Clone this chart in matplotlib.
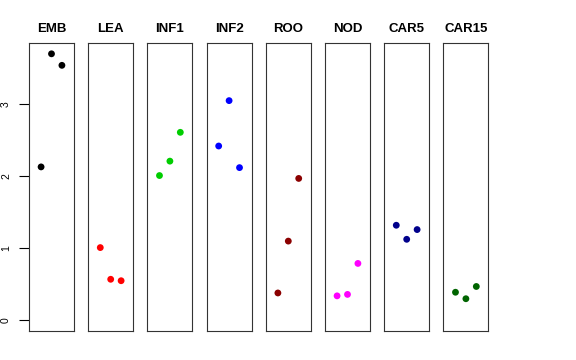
import matplotlib
matplotlib.use("Agg")
import matplotlib.pyplot as plt

tissues = ["EMB", "LEA", "INF1", "INF2", "ROO", "NOD", "CAR5", "CAR15"]
colors = ["black", "red", "#00CD00", "blue", "#8B0000", "magenta", "#00008B", "#006400"]
reps = [1, 2, 3]
values = [
    [2.13, 3.70, 3.54],
    [1.01, 0.57, 0.55],
    [2.01, 2.21, 2.61],
    [2.42, 3.05, 2.12],
    [0.38, 1.10, 1.97],
    [0.34, 0.36, 0.79],
    [1.32, 1.125, 1.26],
    [0.39, 0.30, 0.47],
]
yticks = [0, 1, 2, 3]

plt.rcParams['font.family'] = ['Liberation Sans', 'DejaVu Sans']
fig = plt.figure(figsize=(5.76, 3.6), dpi=100)

left0, width, step = 29 / 576, 45 / 576, 59.2 / 576
bottom, height = 1 - 331 / 360, 288 / 360

for i, (name, col, vals) in enumerate(zip(tissues, colors, values)):
    ax = fig.add_axes([left0 + i * step, bottom, width, height])
    ax.scatter(reps, vals, s=24, c=col, edgecolors='none', zorder=3)
    ax.set_xlim(-0.16, 4.16)
    ax.set_ylim(-0.148, 3.85)
    ax.set_xticks([])
    ax.set_title(name, fontsize=9.5, fontweight='bold', pad=8)
    for sp in ax.spines.values():
        sp.set_linewidth(0.8)
        sp.set_color('#333333')
    if i == 0:
        ax.set_yticks(yticks)
        ax.set_yticklabels([str(t) for t in yticks], rotation=90, va='center')
        ax.tick_params(axis='y', length=7, width=0.8, labelsize=7.5, pad=6)
    else:
        ax.set_yticks([])

fig.savefig("out.png", dpi=100)
